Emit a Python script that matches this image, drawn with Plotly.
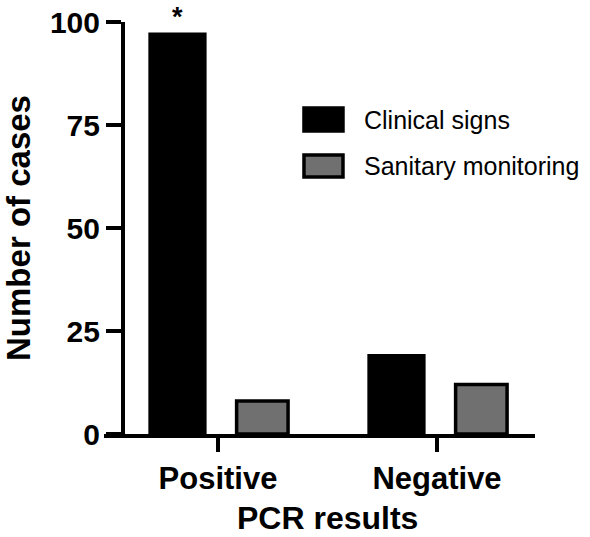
import plotly.graph_objects as go

categories = ["Positive", "Negative"]
clinical_signs = [97, 19]
sanitary_monitoring = [8, 12]
y_ticks = [0, 25, 50, 75, 100]

FONT = "Liberation Sans, Arial, sans-serif"

fig = go.Figure()
fig.add_trace(go.Bar(
    x=categories, y=clinical_signs, name="Clinical signs",
    width=0.25, offset=-0.31,
    marker=dict(color="black", line=dict(color="black", width=3.5)),
    showlegend=False,
))
fig.add_trace(go.Bar(
    x=categories, y=sanitary_monitoring, name="Sanitary monitoring",
    width=0.235, offset=0.085,
    marker=dict(color="#707070", line=dict(color="black", width=3.5)),
    showlegend=False,
))

fig.update_layout(
    width=590, height=537,
    margin=dict(l=104, r=55, t=22, b=103),
    paper_bgcolor="white", plot_bgcolor="white",
    font=dict(family=FONT, color="black"),
    barmode="overlay",
    xaxis=dict(
        type="category", categoryorder="array", categoryarray=categories,
        range=[-0.5205, 1.4475], domain=[0, 1], automargin=False,
        showline=True, linewidth=4, linecolor="black",
        ticks="outside", ticklen=14, tickwidth=3.5, tickcolor="black",
        showgrid=False, zeroline=False,
        tickfont=dict(size=31, weight="bold", family=FONT),
    ),
    yaxis=dict(
        range=[0, 100], tickvals=y_ticks, automargin=False,
        anchor="free", position=0.044,
        showline=True, linewidth=4, linecolor="black",
        ticks="outside", ticklen=15, tickwidth=3.5, tickcolor="black",
        showgrid=False, zeroline=False,
        tickfont=dict(size=30, weight="bold", family=FONT),
        title=dict(text="Number of cases", standoff=10,
                   font=dict(size=33, weight="bold", family=FONT)),
    ),
)

# x-axis title centred between the categories
fig.add_annotation(x=0.5, y=0, xref="x", yref="paper", yshift=-84,
                   text="PCR results", showarrow=False, yanchor="middle",
                   font=dict(size=32, weight="bold", family=FONT))

# significance asterisk above clinical-signs Positive bar
fig.add_annotation(x=-0.185, y=clinical_signs[0], xref="x", yref="y",
                   text="*", showarrow=False, yanchor="bottom", yshift=0,
                   font=dict(size=27, weight="bold", family=FONT))

# custom legend
leg = [("Clinical signs", "black", 0.791, 0.7354, 0.762),
       ("Sanitary monitoring", "#707070", 0.677, 0.6238, 0.650)]
for label, col, y1, y0, yt in leg:
    fig.add_shape(type="rect", xref="paper", yref="paper",
                  x0=0.464, x1=0.5545, y0=y0, y1=y1,
                  fillcolor=col, line=dict(color="black", width=3.5))
    fig.add_annotation(x=0.5986, y=yt, xref="paper", yref="paper",
                       text=label, showarrow=False, xanchor="left",
                       yanchor="middle", font=dict(size=25, family=FONT))

fig.write_html("out.html")
